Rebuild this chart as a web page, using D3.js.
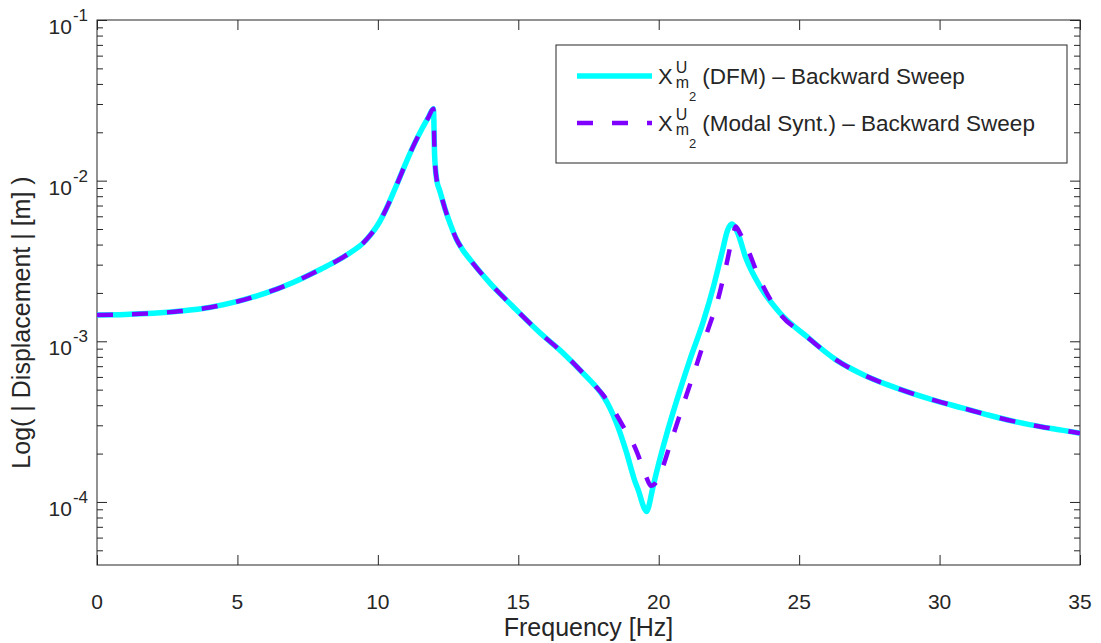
<!DOCTYPE html>
<html>
<head>
<meta charset="utf-8">
<script src="https://cdn.jsdelivr.net/npm/d3@7"></script>
<style>
  body { margin: 0; background: #fff; }
  text { font-family: "Liberation Sans", Arial, sans-serif; fill: #262626; }
</style>
</head>
<body>
<svg id="chart" width="1101" height="643"></svg>
<script>
// values (frequency in Hz, displacement in m)
const freqDFM = [0, 1, 2, 3, 4, 5, 6, 7, 8, 8.5, 9, 9.5, 9.75, 10, 10.3, 10.6, 10.9, 11.25, 11.6, 11.8, 11.98,
  12.02, 12.1, 12.2, 12.4, 12.6, 12.8, 13, 13.3, 14, 14.8, 15.8, 16.6, 17.4, 17.7, 18, 18.25, 18.5,
  18.85, 19.15, 19.3, 19.42, 19.5, 19.57, 19.65, 19.75, 19.93, 20.28, 20.64, 21.1, 21.6, 21.95,
  22.25, 22.45, 22.6, 22.8, 23.1, 23.6, 24.3, 25.3, 26.3, 27.3, 28.5, 29.7, 30.8, 32, 33.2, 34.4, 35];
const dispDFM = [1.459e-3, 1.469e-3, 1.493e-3, 1.542e-3, 1.622e-3, 1.770e-3, 1.995e-3, 2.333e-3,
  2.831e-3, 3.141e-3, 3.548e-3, 4.130e-3, 4.624e-3, 5.309e-3, 6.683e-3, 8.810e-3, 1.175e-2,
  1.622e-2, 2.148e-2, 2.477e-2, 2.799e-2,
  1.445e-2, 1.000e-2, 8.710e-3, 6.607e-3, 5.248e-3, 4.315e-3, 3.758e-3, 3.199e-3, 2.291e-3,
  1.652e-3, 1.117e-3, 8.433e-4, 6.095e-4, 5.370e-4, 4.624e-4, 3.890e-4, 3.090e-4,
  2.042e-4, 1.349e-4, 1.148e-4, 9.77e-5, 9.02e-5, 8.71e-5, 9.44e-5, 1.14e-4, 1.55e-4,
  2.63e-4, 4.27e-4, 7.59e-4, 1.35e-3, 2.19e-3, 3.55e-3, 4.90e-3, 5.37e-3,
  4.79e-3, 3.31e-3, 2.21e-3, 1.51e-3, 1.06e-3, 7.69e-4, 6.17e-4, 5.09e-4, 4.35e-4, 3.85e-4,
  3.38e-4, 3.03e-4, 2.79e-4, 2.68e-4];

const freqModal = [0, 1, 2, 3, 4, 5, 6, 7, 8, 8.5, 9, 9.5, 9.75, 10, 10.3, 10.6, 10.9, 11.25, 11.6, 11.8, 11.98,
  12.02, 12.1, 12.2, 12.4, 12.6, 12.8, 13, 13.3, 14, 14.8, 15.8, 16.6, 17.4, 17.8, 18, 18.4, 18.8,
  19.1, 19.4, 19.57, 19.72, 19.85, 20.04, 20.46, 20.87, 21.29, 21.71, 22.12, 22.42, 22.66, 22.74,
  22.9, 23.13, 23.61, 24.2, 25.3, 26.3, 27.3, 28.5, 29.7, 30.8, 32, 33.2, 34.4, 35];
const dispModal = [1.459e-3, 1.469e-3, 1.493e-3, 1.542e-3, 1.622e-3, 1.770e-3, 1.995e-3, 2.333e-3,
  2.831e-3, 3.141e-3, 3.548e-3, 4.130e-3, 4.624e-3, 5.309e-3, 6.683e-3, 8.810e-3, 1.175e-2,
  1.622e-2, 2.148e-2, 2.477e-2, 2.799e-2,
  1.445e-2, 1.000e-2, 8.710e-3, 6.607e-3, 5.248e-3, 4.315e-3, 3.758e-3, 3.199e-3, 2.291e-3,
  1.652e-3, 1.117e-3, 8.433e-4, 6.095e-4, 5.13e-4, 4.68e-4, 3.72e-4, 2.82e-4,
  2.29e-4, 1.70e-4, 1.41e-4, 1.26e-4, 1.29e-4, 1.48e-4, 2.44e-4, 4.02e-4, 6.64e-4, 1.12e-3,
  1.85e-3, 3.06e-3, 4.71e-3, 5.18e-3,
  4.68e-3, 3.88e-3, 2.41e-3, 1.58e-3, 1.06e-3, 7.69e-4, 6.17e-4, 5.09e-4, 4.35e-4, 3.85e-4,
  3.38e-4, 3.03e-4, 2.79e-4, 2.68e-4];

const xTicks = [0, 5, 10, 15, 20, 25, 30, 35];
const yDecades = [-4, -3, -2, -1];
const seriesNames = ["(DFM) – Backward Sweep", "(Modal Synt.) – Backward Sweep"];

const svg = d3.select("#chart");
const margin = { top: 20, right: 21, bottom: 78, left: 97 };
const width = 1101 - margin.left - margin.right;
const height = 643 - margin.top - margin.bottom;
const axisColor = "#262626";

const x = d3.scaleLinear().domain([0, 35]).range([0, width]);
const y = d3.scaleLog().domain([4.05e-5, 0.1]).range([height, 0]);

const chart = svg.append("g")
  .attr("transform", `translate(${margin.left}, ${margin.top})`);

chart.append("clipPath").attr("id", "clip")
  .append("rect").attr("width", width).attr("height", height);

// minor log ticks
const minor = [];
for (let e = -5; e < -1; e++) {
  for (let m = 2; m <= 9; m++) {
    const v = m * Math.pow(10, e);
    if (v >= y.domain()[0] && v <= y.domain()[1]) minor.push(v);
  }
}
const majors = yDecades.map(d => Math.pow(10, d));

function styleAxis(g) {
  g.select(".domain").remove();
  g.selectAll("line").attr("stroke", axisColor).attr("stroke-width", 1);
}

chart.append("g").call(d3.axisLeft(y).tickValues(minor).tickSize(-6).tickFormat("")).call(styleAxis);
chart.append("g").attr("transform", `translate(${width},0)`)
  .call(d3.axisRight(y).tickValues(minor).tickSize(-6).tickFormat("")).call(styleAxis);
chart.append("g").call(d3.axisLeft(y).tickValues(majors).tickSize(-10).tickFormat("")).call(styleAxis);
chart.append("g").attr("transform", `translate(${width},0)`)
  .call(d3.axisRight(y).tickValues(majors).tickSize(-10).tickFormat("")).call(styleAxis);
chart.append("g").attr("transform", `translate(0,${height})`)
  .call(d3.axisBottom(x).tickValues(xTicks).tickSize(-10).tickFormat("")).call(styleAxis);
chart.append("g")
  .call(d3.axisTop(x).tickValues(xTicks).tickSize(-10).tickFormat("")).call(styleAxis);

chart.append("rect")
  .attr("width", width).attr("height", height)
  .attr("fill", "none").attr("stroke", axisColor).attr("stroke-width", 1);

// tick labels
chart.selectAll(".xlab").data(xTicks).enter().append("text")
  .attr("x", d => x(d)).attr("y", height + 44)
  .attr("text-anchor", "middle").attr("font-size", 21)
  .text(d => d);

yDecades.forEach(d => {
  const t = chart.append("text")
    .attr("x", -9).attr("y", y(Math.pow(10, d)) + 14)
    .attr("text-anchor", "end").attr("font-size", 21);
  t.append("tspan").text("10");
  t.append("tspan").attr("dx", 1).attr("dy", -13).attr("font-size", 17).text(d);
});

chart.append("text")
  .attr("x", width / 2).attr("y", height + 71)
  .attr("text-anchor", "middle").attr("font-size", 25)
  .text("Frequency [Hz]");

chart.append("text")
  .attr("transform", `translate(${-67}, ${height / 2 + 30}) rotate(-90)`)
  .attr("text-anchor", "middle").attr("font-size", 25)
  .text("Log( | Displacement | [m] )");

// curves
const line = d3.line()
  .x(d => x(d[0]))
  .y(d => y(d[1]))
  .curve(d3.curveMonotoneX);

const plot = chart.append("g").attr("clip-path", "url(#clip)");

plot.append("path")
  .datum(d3.zip(freqDFM, dispDFM))
  .attr("fill", "none")
  .attr("stroke", "#00ffff")
  .attr("stroke-width", 5.5)
  .attr("stroke-linejoin", "round")
  .attr("d", line);

plot.append("path")
  .datum(d3.zip(freqModal, dispModal))
  .attr("fill", "none")
  .attr("stroke", "#7f00ff")
  .attr("stroke-width", 4.5)
  .attr("stroke-dasharray", "16,19")
  .attr("d", line);

// legend
const legend = svg.append("g").attr("transform", "translate(556, 45)");
legend.append("rect")
  .attr("width", 511).attr("height", 118)
  .attr("fill", "#fff").attr("stroke", axisColor).attr("stroke-width", 1);

const legendStyles = [
  { color: "#00ffff", w: 5.5, dash: null },
  { color: "#7f00ff", w: 4.5, dash: "16,19" }
];

seriesNames.forEach((name, i) => {
  const ly = 31 + i * 47;
  legend.append("line")
    .attr("x1", 21).attr("x2", 96).attr("y1", ly).attr("y2", ly)
    .attr("stroke", legendStyles[i].color)
    .attr("stroke-width", legendStyles[i].w)
    .attr("stroke-dasharray", legendStyles[i].dash);

  const base = ly + 8;
  const tx = 102;
  const X = legend.append("text").attr("x", tx).attr("y", base).attr("font-size", 22).text("X");
  const wX = X.node().getComputedTextLength();
  const U = legend.append("text").attr("x", tx + wX + 3).attr("y", base - 11).attr("font-size", 16).text("U");
  const m = legend.append("text").attr("x", tx + wX + 3).attr("y", base + 4).attr("font-size", 16).text("m");
  const wm = m.node().getComputedTextLength();
  const two = legend.append("text").attr("x", tx + wX + 3 + wm).attr("y", base + 17).attr("font-size", 13).text("2");
  const wSub = Math.max(U.node().getComputedTextLength(), wm + two.node().getComputedTextLength());
  legend.append("text").attr("x", tx + wX + 3 + wSub + 6).attr("y", base).attr("font-size", 22.5).text(name);
});
</script>
</body>
</html>
